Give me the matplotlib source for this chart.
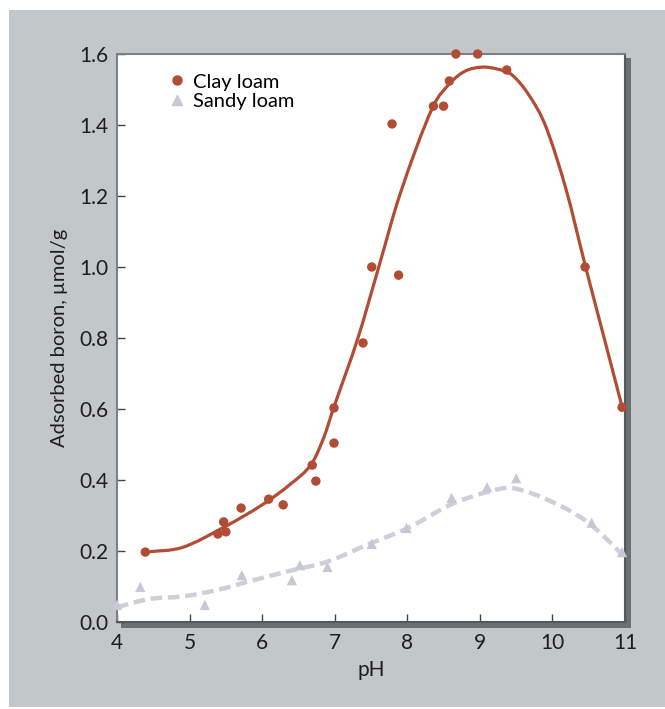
import matplotlib
matplotlib.use("Agg")
import matplotlib.pyplot as plt
import numpy as np
from matplotlib.patches import Rectangle, PathPatch
from matplotlib.path import Path
from matplotlib.lines import Line2D

# ---- data ----
clay_ph = [4.39, 5.39, 5.47, 5.50, 5.71, 6.09, 6.29, 6.69, 6.74, 6.99, 6.99,
           7.39, 7.51, 7.79, 7.88, 8.36, 8.50, 8.58, 8.67, 8.97, 9.37, 10.45, 10.96]
clay_val = [0.197, 0.248, 0.282, 0.254, 0.321, 0.346, 0.330, 0.442, 0.397, 0.603, 0.504,
            0.786, 1.000, 1.403, 0.977, 1.453, 1.453, 1.524, 1.600, 1.600, 1.555, 1.000, 0.605]

clay_fit_ph = [4.4, 4.9, 5.5, 6.0, 6.4, 6.68, 6.85, 6.98, 7.32, 7.6, 7.9, 8.35, 8.6, 8.8,
               9.03, 9.25, 9.45, 9.69, 9.91, 10.19, 10.45, 10.7, 10.96]
clay_fit_val = [0.197, 0.210, 0.270, 0.330, 0.390, 0.445, 0.520, 0.600, 0.800, 0.995,
                1.205, 1.450, 1.520, 1.552, 1.563, 1.557, 1.540, 1.480, 1.395, 1.217,
                1.006, 0.810, 0.606]

sandy_ph = [4.00, 4.32, 5.21, 5.72, 6.41, 6.52, 6.90, 7.51, 7.99, 8.61, 9.10, 9.50, 10.54, 10.96]
sandy_val = [0.048, 0.099, 0.048, 0.132, 0.118, 0.160, 0.155, 0.220, 0.265, 0.350,
             0.380, 0.405, 0.280, 0.197]

sandy_fit_ph = [4.0, 4.45, 4.9, 5.38, 5.83, 6.4, 6.9, 7.44, 8.04, 8.59,
                9.1, 9.45, 10.0, 10.5, 10.97]
sandy_fit_val = [0.042, 0.065, 0.072, 0.090, 0.115, 0.145, 0.170, 0.217,
                 0.268, 0.330, 0.366, 0.377, 0.338, 0.279, 0.189]

x_ticks = [4, 5, 6, 7, 8, 9, 10, 11]
y_ticks = [0.0, 0.2, 0.4, 0.6, 0.8, 1.0, 1.2, 1.4, 1.6]

RED = "#b24d35"
GREY_M = "#c6c8d5"
GREY_L = "#cdd0da"
BG = "#c2c7c9"
SHADOW = "#6c7072"

plt.rcParams['font.family'] = ['Lato', 'DejaVu Sans']


def smooth_path(xs, ys):
    """Catmull-Rom curve through the given points, as cubic Bezier segments."""
    p = np.column_stack([xs, ys]).astype(float)
    n = len(p)
    verts = [p[0]]
    codes = [Path.MOVETO]
    for i in range(n - 1):
        p0 = p[i - 1] if i > 0 else p[i]
        p1, p2 = p[i], p[i + 1]
        p3 = p[i + 2] if i + 2 < n else p[i + 1]
        h = p2[0] - p1[0]
        t1 = (p2 - p0) / (p2[0] - p0[0])
        t2 = (p3 - p1) / (p3[0] - p1[0])
        c1 = p1 + t1 * h / 3.0
        c2 = p2 - t2 * h / 3.0
        verts += [c1, c2, p2]
        codes += [Path.CURVE4] * 3
    return Path(verts, codes)


W, H = 665, 709
fig = plt.figure(figsize=(W / 100, H / 100), dpi=100, facecolor="white")

fig.patches.append(Rectangle((9 / W, 2 / H), 1 - 9 / W, (707 - 10) / H,
                             transform=fig.transFigure, facecolor=BG,
                             edgecolor="none", zorder=-3))

L, R, T, B = 117, 625, 54, 622
ax = fig.add_axes([L / W, 1 - B / H, (R - L) / W, (B - T) / H])
ax.set_zorder(1)

fig.patches.append(Rectangle((R / W, 1 - (B + 6) / H), 6 / W, (B + 6 - (T + 4)) / H,
                             transform=fig.transFigure, facecolor=SHADOW,
                             edgecolor="none", zorder=-2))
fig.patches.append(Rectangle(((L + 4) / W, 1 - (B + 6) / H), (R + 6 - L - 4) / W, 6 / H,
                             transform=fig.transFigure, facecolor=SHADOW,
                             edgecolor="none", zorder=-2))

ax.set_facecolor("white")
ax.set_xlim(4, 11)
ax.set_ylim(0, 1.6)

for side in ["top", "left"]:
    ax.spines[side].set_color("#7d8183")
    ax.spines[side].set_linewidth(1.5)
for side in ["right", "bottom"]:
    ax.spines[side].set_color("#55595b")
    ax.spines[side].set_linewidth(1.5)

sandy_patch = PathPatch(smooth_path(sandy_fit_ph, sandy_fit_val), facecolor="none",
                        edgecolor=GREY_L, lw=3.2, zorder=3, capstyle="butt")
sandy_patch.set_linestyle((0, (2.6, 1.3)))
ax.add_patch(sandy_patch)
ax.scatter(sandy_ph, sandy_val, marker="^", s=55, color=GREY_M, edgecolors="none",
           zorder=4, clip_on=False)

ax.add_patch(PathPatch(smooth_path(clay_fit_ph, clay_fit_val), facecolor="none",
                       edgecolor=RED, lw=2.3, zorder=5))
ax.scatter(clay_ph, clay_val, marker="o", s=46, color=RED, edgecolors="none",
           zorder=6, clip_on=False)

ax.set_xticks(x_ticks)
ax.set_xticklabels([str(v) for v in x_ticks])
ax.set_yticks(y_ticks)
ax.set_yticklabels([f"{v:.1f}" for v in y_ticks])
ax.tick_params(axis="both", direction="in", length=6, width=1, color="#444444",
               labelsize=15, labelcolor="#1e1e1e")
ax.tick_params(axis="x", pad=8)
ax.tick_params(axis="y", pad=6)

ax.set_xlabel("pH", fontsize=15, color="#1e1e1e", labelpad=5)
ax.set_ylabel("Adsorbed boron, µmol/g", fontsize=14.5, color="#1e1e1e", labelpad=8)

handles = [Line2D([], [], marker="o", ls="none", color=RED, markersize=6.5),
           Line2D([], [], marker="^", ls="none", color=GREY_M, markersize=7.5)]
ax.legend(handles, ["Clay loam", "Sandy loam"], loc="upper left",
          bbox_to_anchor=(0.09, 0.98), frameon=False, fontsize=14.5,
          handlelength=0.6, handletextpad=0.5, labelspacing=0.12, borderaxespad=0)

fig.savefig("out.png", dpi=100, facecolor="white")
